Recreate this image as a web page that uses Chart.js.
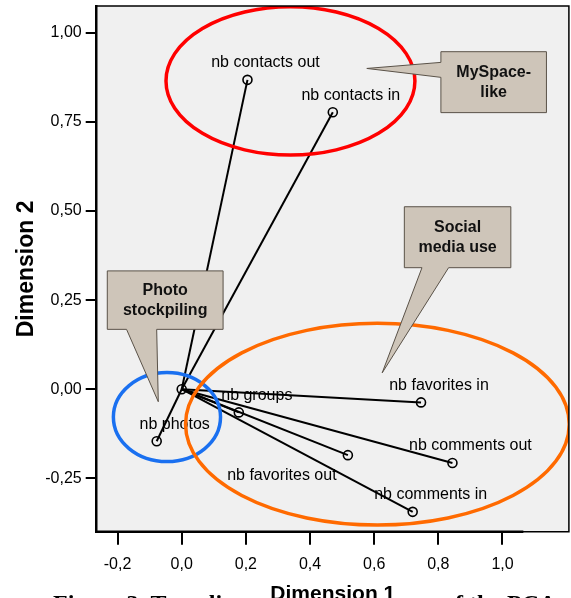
<!DOCTYPE html>
<html><head><meta charset="utf-8">
<script src="https://cdn.jsdelivr.net/npm/chart.js@4.4.1/dist/chart.umd.min.js"></script>
<style>html,body{margin:0;padding:0;background:#fff;overflow:hidden}#wrap{width:571px;height:598px;position:relative;overflow:hidden}canvas{display:block}</style>
</head><body><div id="wrap"><canvas id="c" width="575" height="598"></canvas></div>
<script>
// ---- data ----
const variableNames = ['nb contacts out','nb contacts in','nb photos','nb groups','nb favorites in','nb comments out','nb favorites out','nb comments in'];
const dimension1 = [0.205, 0.471, -0.078, 0.178, 0.746, 0.844, 0.518, 0.720];
const dimension2 = [0.868, 0.777, -0.146, -0.065, -0.037, -0.207, -0.185, -0.344];
const xTicks = [-0.2, 0.0, 0.2, 0.4, 0.6, 0.8, 1.0];
const yTicks = [-0.25, 0.00, 0.25, 0.50, 0.75, 1.00];
const groupNames = ['MySpace-\nlike', 'Social\nmedia use', 'Photo\nstockpiling'];

// ---- annotation geometry (data units) ----
const ellipses = [
  {cx: 0.339, cy: 0.865, rx: 0.388, ry: 0.208, color: '#ff0000'},
  {cx: -0.046, cy: -0.078, rx: 0.167, ry: 0.125, color: '#1a70f0'},
  {cx: 0.610, cy: -0.098, rx: 0.598, ry: 0.283, color: '#ff6a00'}
];
const callouts = [
  {label: 0, x1: 0.808, x2: 1.137, y1: 0.947, y2: 0.776, side: 'left', b1: 0.917, b2: 0.875, tx: 0.577, ty: 0.900},
  {label: 1, x1: 0.694, x2: 1.026, y1: 0.512, y2: 0.341, side: 'bottom', b1: 0.749, b2: 0.832, tx: 0.625, ty: 0.046},
  {label: 2, x1: -0.232, x2: 0.129, y1: 0.332, y2: 0.168, side: 'bottom', b1: -0.172, b2: -0.078, tx: -0.073, ty: -0.035}
];
const labelOffsets = {'nb favorites out': [-66, 20]};
const defaultLabelOffset = [18, -17];

const FONT = '"Liberation Sans", Arial, sans-serif';

const datasets = variableNames.map((n, i) => ({
  label: n,
  data: [{x: 0, y: 0}, {x: dimension1[i], y: dimension2[i]}],
  showLine: true,
  borderColor: '#000',
  borderWidth: 2,
  pointRadius: [0, 4.5],
  pointHoverRadius: [0, 4.5],
  pointBorderWidth: 1.6,
  pointBorderColor: '#000',
  pointBackgroundColor: 'rgba(0,0,0,0)'
}));
datasets.push({label: 'origin', data: [{x: 0, y: 0}], pointRadius: 4.5, pointBorderWidth: 1.6,
  pointBorderColor: '#000', pointBackgroundColor: 'rgba(0,0,0,0)', showLine: false});

const bgPlugin = {
  id: 'bg',
  beforeDraw(chart) {
    const {ctx, chartArea: a} = chart;
    ctx.save();
    ctx.fillStyle = '#f0f0f0';
    ctx.fillRect(a.left, a.top, a.right - a.left, a.bottom - a.top);
    // caption (partly hidden behind the figure)
    ctx.fillStyle = '#000';
    ctx.font = 'bold 24px "Liberation Serif", "Times New Roman", serif';
    ctx.textBaseline = 'alphabetic';
    ctx.textAlign = 'left';
    ctx.fillText('Figure 3. Two-dimensional projection of the PCA', 53, 610.5);
    ctx.fillStyle = '#fff';
    ctx.fillRect(232, 578, 180, 20);
    ctx.restore();
  },
  afterDraw(chart) {
    const {ctx, chartArea: a, scales: {x}} = chart;
    ctx.save();
    ctx.strokeStyle = '#000';
    ctx.lineWidth = 1.5;
    ctx.beginPath();
    ctx.moveTo(a.left, a.top); ctx.lineTo(a.right, a.top); ctx.lineTo(a.right, a.bottom); ctx.lineTo(a.left, a.bottom);
    ctx.stroke();
    ctx.lineWidth = 2.5;
    ctx.beginPath();
    ctx.moveTo(a.left - 1, a.bottom); ctx.lineTo(x.getPixelForValue(1.065), a.bottom);
    ctx.stroke();
    ctx.restore();
  }
};

const annoPlugin = {
  id: 'anno',
  afterDatasetsDraw(chart) {
    const {ctx, chartArea: a, scales: {x, y}} = chart;
    ctx.save();
    // point labels
    ctx.font = '16px ' + FONT;
    ctx.fillStyle = '#000';
    ctx.textAlign = 'center';
    ctx.textBaseline = 'middle';
    variableNames.forEach((n, i) => {
      const el = chart.getDatasetMeta(i).data[1];
      const off = labelOffsets[n] || defaultLabelOffset;
      ctx.fillText(n, el.x + off[0], el.y + off[1]);
    });
    // ellipses
    ctx.save();
    ctx.beginPath();
    ctx.rect(a.left, a.top, a.right - a.left, a.bottom - a.top);
    ctx.clip();
    ellipses.forEach(e => {
      const cx = x.getPixelForValue(e.cx), cy = y.getPixelForValue(e.cy);
      const rx = Math.abs(x.getPixelForValue(e.cx + e.rx) - cx);
      const ry = Math.abs(y.getPixelForValue(e.cy + e.ry) - cy);
      ctx.beginPath();
      ctx.ellipse(cx, cy, rx, ry, 0, 0, Math.PI * 2);
      ctx.strokeStyle = e.color;
      ctx.lineWidth = 3.5;
      ctx.stroke();
    });
    ctx.restore();
    // callouts
    callouts.forEach(c => {
      const X1 = x.getPixelForValue(c.x1), X2 = x.getPixelForValue(c.x2);
      const Y1 = y.getPixelForValue(c.y1), Y2 = y.getPixelForValue(c.y2);
      const TX = x.getPixelForValue(c.tx), TY = y.getPixelForValue(c.ty);
      ctx.beginPath();
      if (c.side === 'left') {
        const B1 = y.getPixelForValue(c.b1), B2 = y.getPixelForValue(c.b2);
        ctx.moveTo(X1, Y1); ctx.lineTo(X2, Y1); ctx.lineTo(X2, Y2); ctx.lineTo(X1, Y2);
        ctx.lineTo(X1, B2); ctx.lineTo(TX, TY); ctx.lineTo(X1, B1); ctx.closePath();
      } else {
        const B1 = x.getPixelForValue(c.b1), B2 = x.getPixelForValue(c.b2);
        ctx.moveTo(X1, Y1); ctx.lineTo(X2, Y1); ctx.lineTo(X2, Y2); ctx.lineTo(B2, Y2);
        ctx.lineTo(TX, TY); ctx.lineTo(B1, Y2); ctx.lineTo(X1, Y2); ctx.closePath();
      }
      ctx.fillStyle = '#cec5b9';
      ctx.fill();
      ctx.strokeStyle = '#5a5248';
      ctx.lineWidth = 1;
      ctx.stroke();
      const lines = groupNames[c.label].split('\n');
      ctx.fillStyle = '#111';
      ctx.font = 'bold 16px ' + FONT;
      ctx.textAlign = 'center';
      ctx.textBaseline = 'middle';
      const mx = (X1 + X2) / 2, my = (Y1 + Y2) / 2;
      lines.forEach((t, k) => ctx.fillText(t, mx, my + (k - (lines.length - 1) / 2) * 20));
    });
    ctx.restore();
  }
};

new Chart(document.getElementById('c'), {
  type: 'scatter',
  data: {datasets},
  plugins: [bgPlugin, annoPlugin],
  options: {
    responsive: false,
    animation: false,
    events: [],
    layout: {padding: {left: 0, right: 0, top: 6, bottom: 0}},
    plugins: {legend: {display: false}, tooltip: {enabled: false}},
    scales: {
      x: {
        type: 'linear', min: -0.265, max: 1.207,
        afterFit: s => { s.height = 66.3; s.paddingLeft = 0; s.paddingRight = 0; },
        afterBuildTicks: s => { s.ticks = xTicks.map(v => ({value: v})); },
        grid: {display: true, drawOnChartArea: false, drawTicks: true, tickLength: 13, color: '#000', lineWidth: 2},
        border: {display: false},
        ticks: {color: '#000', font: {family: FONT, size: 16}, padding: 10, maxRotation: 0,
          callback: v => v.toFixed(1).replace('.', ',')},
        title: {display: true, text: 'Dimension 1', color: '#000', font: {family: FONT, size: 21, weight: 'bold'},
          padding: {top: 0, bottom: -9.3}}
      },
      y: {
        type: 'linear', min: -0.3997, max: 1.0749,
        afterFit: s => { s.width = 96.7; s.paddingTop = 0; s.paddingBottom = 0; },
        afterBuildTicks: s => { s.ticks = yTicks.map(v => ({value: v})); },
        grid: {display: true, drawOnChartArea: false, drawTicks: true, tickLength: 11, color: '#000', lineWidth: 2},
        border: {display: true, color: '#000', width: 2.5},
        ticks: {color: '#000', font: {family: FONT, size: 16}, padding: 4,
          callback: v => v.toFixed(2).replace('.', ',')},
        title: {display: true, text: 'Dimension 2', color: '#000', font: {family: FONT, size: 23, weight: 'bold'},
          padding: {top: 13, bottom: 0}}
      }
    }
  }
});
</script></body></html>
